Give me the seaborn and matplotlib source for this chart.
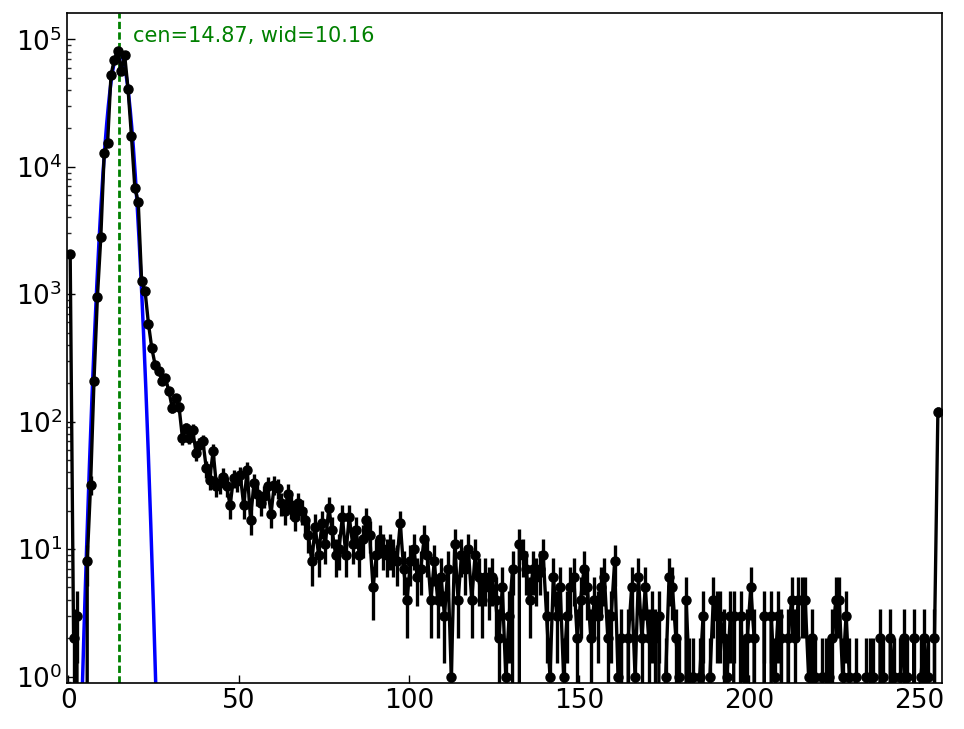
import numpy as np
import pandas as pd
import matplotlib
matplotlib.use("Agg")
import matplotlib.pyplot as plt
import seaborn as sns

# histogram counts for pixel values 0..255
counts = [
    2080, 2, 3, 0, 0, 8, 32, 209, 950, 2790,
    12800, 15400, 52800, 69300, 81500, 56800, 75800, 40800, 17500, 6820,
    5290, 1260, 1065, 587, 375, 276, 251, 209, 220, 174,
    128, 153, 130, 74, 89, 75, 86, 57, 66, 70,
    43, 35, 59, 31, 33, 37, 31, 22, 36, 34,
    38, 22, 42, 17, 33, 27, 23, 26, 31, 19,
    32, 30, 23, 20, 27, 22, 18, 23, 20, 17,
    13, 8, 15, 9, 16, 11, 21, 14, 9, 10,
    18, 9, 18, 11, 14, 9, 12, 17, 13, 5,
    9, 12, 10, 9, 10, 9, 8, 16, 7, 4,
    8, 10, 6, 7, 12, 9, 4, 8, 4, 6,
    3, 7, 1, 11, 4, 9, 7, 10, 4, 9,
    6, 4, 6, 5, 6, 4, 2, 5, 1, 3,
    7, 0, 11, 9, 7, 4, 7, 6, 7, 9,
    3, 1, 6, 3, 5, 1, 3, 5, 6, 2,
    4, 7, 5, 2, 4, 3, 5, 6, 2, 3,
    8, 1, 2, 0, 2, 5, 1, 6, 2, 5,
    2, 3, 2, 3, 0, 1, 6, 5, 2, 1,
    0, 4, 1, 1, 0, 1, 3, 0, 1, 4,
    3, 3, 2, 1, 3, 3, 0, 3, 1, 2,
    5, 2, 0, 0, 3, 0, 3, 1, 3, 2,
    0, 2, 4, 2, 4, 4, 4, 1, 2, 1,
    0, 1, 1, 1, 2, 4, 4, 1, 3, 1,
    0, 1, 0, 0, 1, 1, 1, 0, 2, 1,
    0, 2, 1, 0, 1, 2, 1, 0, 2, 0,
    1, 2, 1, 0, 2, 120,
]

# gaussian fit parameters
cen = 14.87
wid = 10.16
amp = 80000

sns.set_style("ticks", {"xtick.direction": "in", "ytick.direction": "in",
                        "axes.edgecolor": "black"})
plt.rcParams["font.family"] = ["DejaVu Sans"]

fig = plt.figure(figsize=(9.64, 7.29), dpi=100)
ax = fig.add_axes([0.0698, 0.0631, 0.9077, 0.9187])
ax.set_yscale("log")

# centre line of the fit
ax.axvline(cen, color="green", ls=(0, (2.6, 1.2)), lw=2, zorder=1)

# fitted gaussian
xf = np.linspace(0, 30, 600)
fit = pd.DataFrame({"x": xf, "y": amp * np.exp(-(xf - cen) ** 2 / wid)})
sns.lineplot(data=fit, x="x", y="y", color="blue", lw=2.5, ax=ax, zorder=2)

# data with poisson error bars
y = np.array(counts, dtype=float)
x = np.arange(len(y)) + 0.5
ax.errorbar(x, y, yerr=np.sqrt(y), fmt="o-", color="black", ms=6.5,
            lw=2.4, elinewidth=2.4, capsize=0, zorder=3)

ax.text(cen + 4, 9.5e4, f"cen={cen:.2f}, wid={wid:.2f}", color="green",
        fontsize=15)

ax.set_xlim(-0.35, 256.8)
ax.set_ylim(0.89, 1.6e5)
ax.set_xticks([0, 50, 100, 150, 200, 250])
ax.set_xlabel("")
ax.set_ylabel("")
ax.tick_params(which="major", direction="in", length=6, width=1,
               labelsize=19, colors="black")
ax.tick_params(which="minor", direction="in", length=3, width=1)
for s in ax.spines.values():
    s.set_linewidth(1.2)
    s.set_color("black")

fig.savefig("out.png", dpi=100)
